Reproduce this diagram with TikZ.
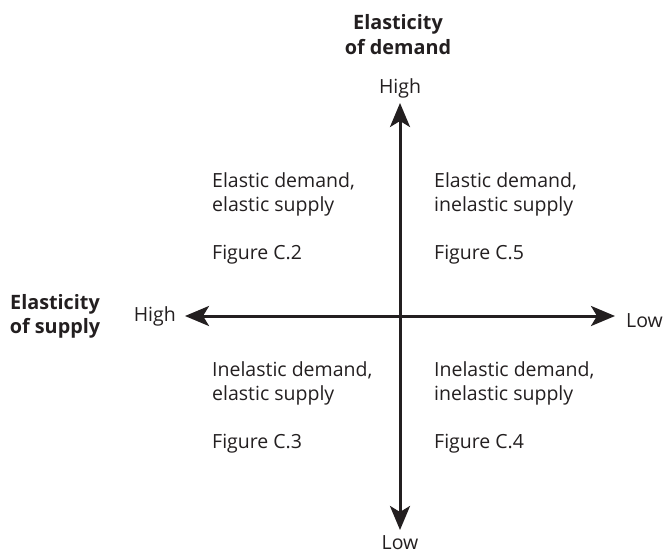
\documentclass[tikz,border=0pt]{standalone}
\usepackage{fontspec}
\setmainfont{Open Sans}
\usetikzlibrary{arrows.meta}
\definecolor{ink}{HTML}{231F20}
\begin{document}
\begin{tikzpicture}[x=1pt,y=-1pt,
  lbl/.style={text=ink,font=\fontsize{19.5}{24}\selectfont,inner sep=0pt,anchor=base},
  ttl/.style={lbl,font=\fontsize{19.8}{24}\selectfont\bfseries},
  quad/.style={lbl,anchor=base west},
  axis/.style={draw=ink,line width=3pt,-{Stealth[length=24pt,width=20pt,inset=6pt]}}]
\useasboundingbox (0,0) rectangle (668,554);
\coordinate (c) at (400,316);
\coordinate (top) at (400,103);
\coordinate (bot) at (400,530);
\coordinate (left) at (185,316);
\coordinate (right) at (615,316);
\draw[axis] (c) -- (top);
\draw[axis] (c) -- (bot);
\draw[axis] (c) -- (left);
\draw[axis] (c) -- (right);
\node[ttl] (ed1) at (398,29) {Elasticity};
\node[ttl] (ed2) at (398,54) {of demand};
\node[ttl] (es1) at (55,309) {Elasticity};
\node[ttl] (es2) at (55,333) {of supply};
\node[lbl] (hT) at (400,93) {High};
\node[lbl] (lB) at (400,549) {Low};
\node[lbl,anchor=base east] (hL) at (176,321) {High};
\node[lbl,anchor=base west] (lR) at (626,327) {Low};
\node[quad] (q1a) at (212,187) {Elastic demand,};
\node[quad] (q1b) at (212,211) {elastic supply};
\node[quad] (q1c) at (212,259) {Figure C.2};
\node[quad] (q2a) at (434,187) {Elastic demand,};
\node[quad] (q2b) at (434,211) {inelastic supply};
\node[quad] (q2c) at (434,259) {Figure C.5};
\node[quad] (q3a) at (212,376) {Inelastic demand,};
\node[quad] (q3b) at (212,400) {elastic supply};
\node[quad] (q3c) at (212,448) {Figure C.3};
\node[quad] (q4a) at (434,376) {Inelastic demand,};
\node[quad] (q4b) at (434,400) {inelastic supply};
\node[quad] (q4c) at (434,448) {Figure C.4};
\end{tikzpicture}
\end{document}
